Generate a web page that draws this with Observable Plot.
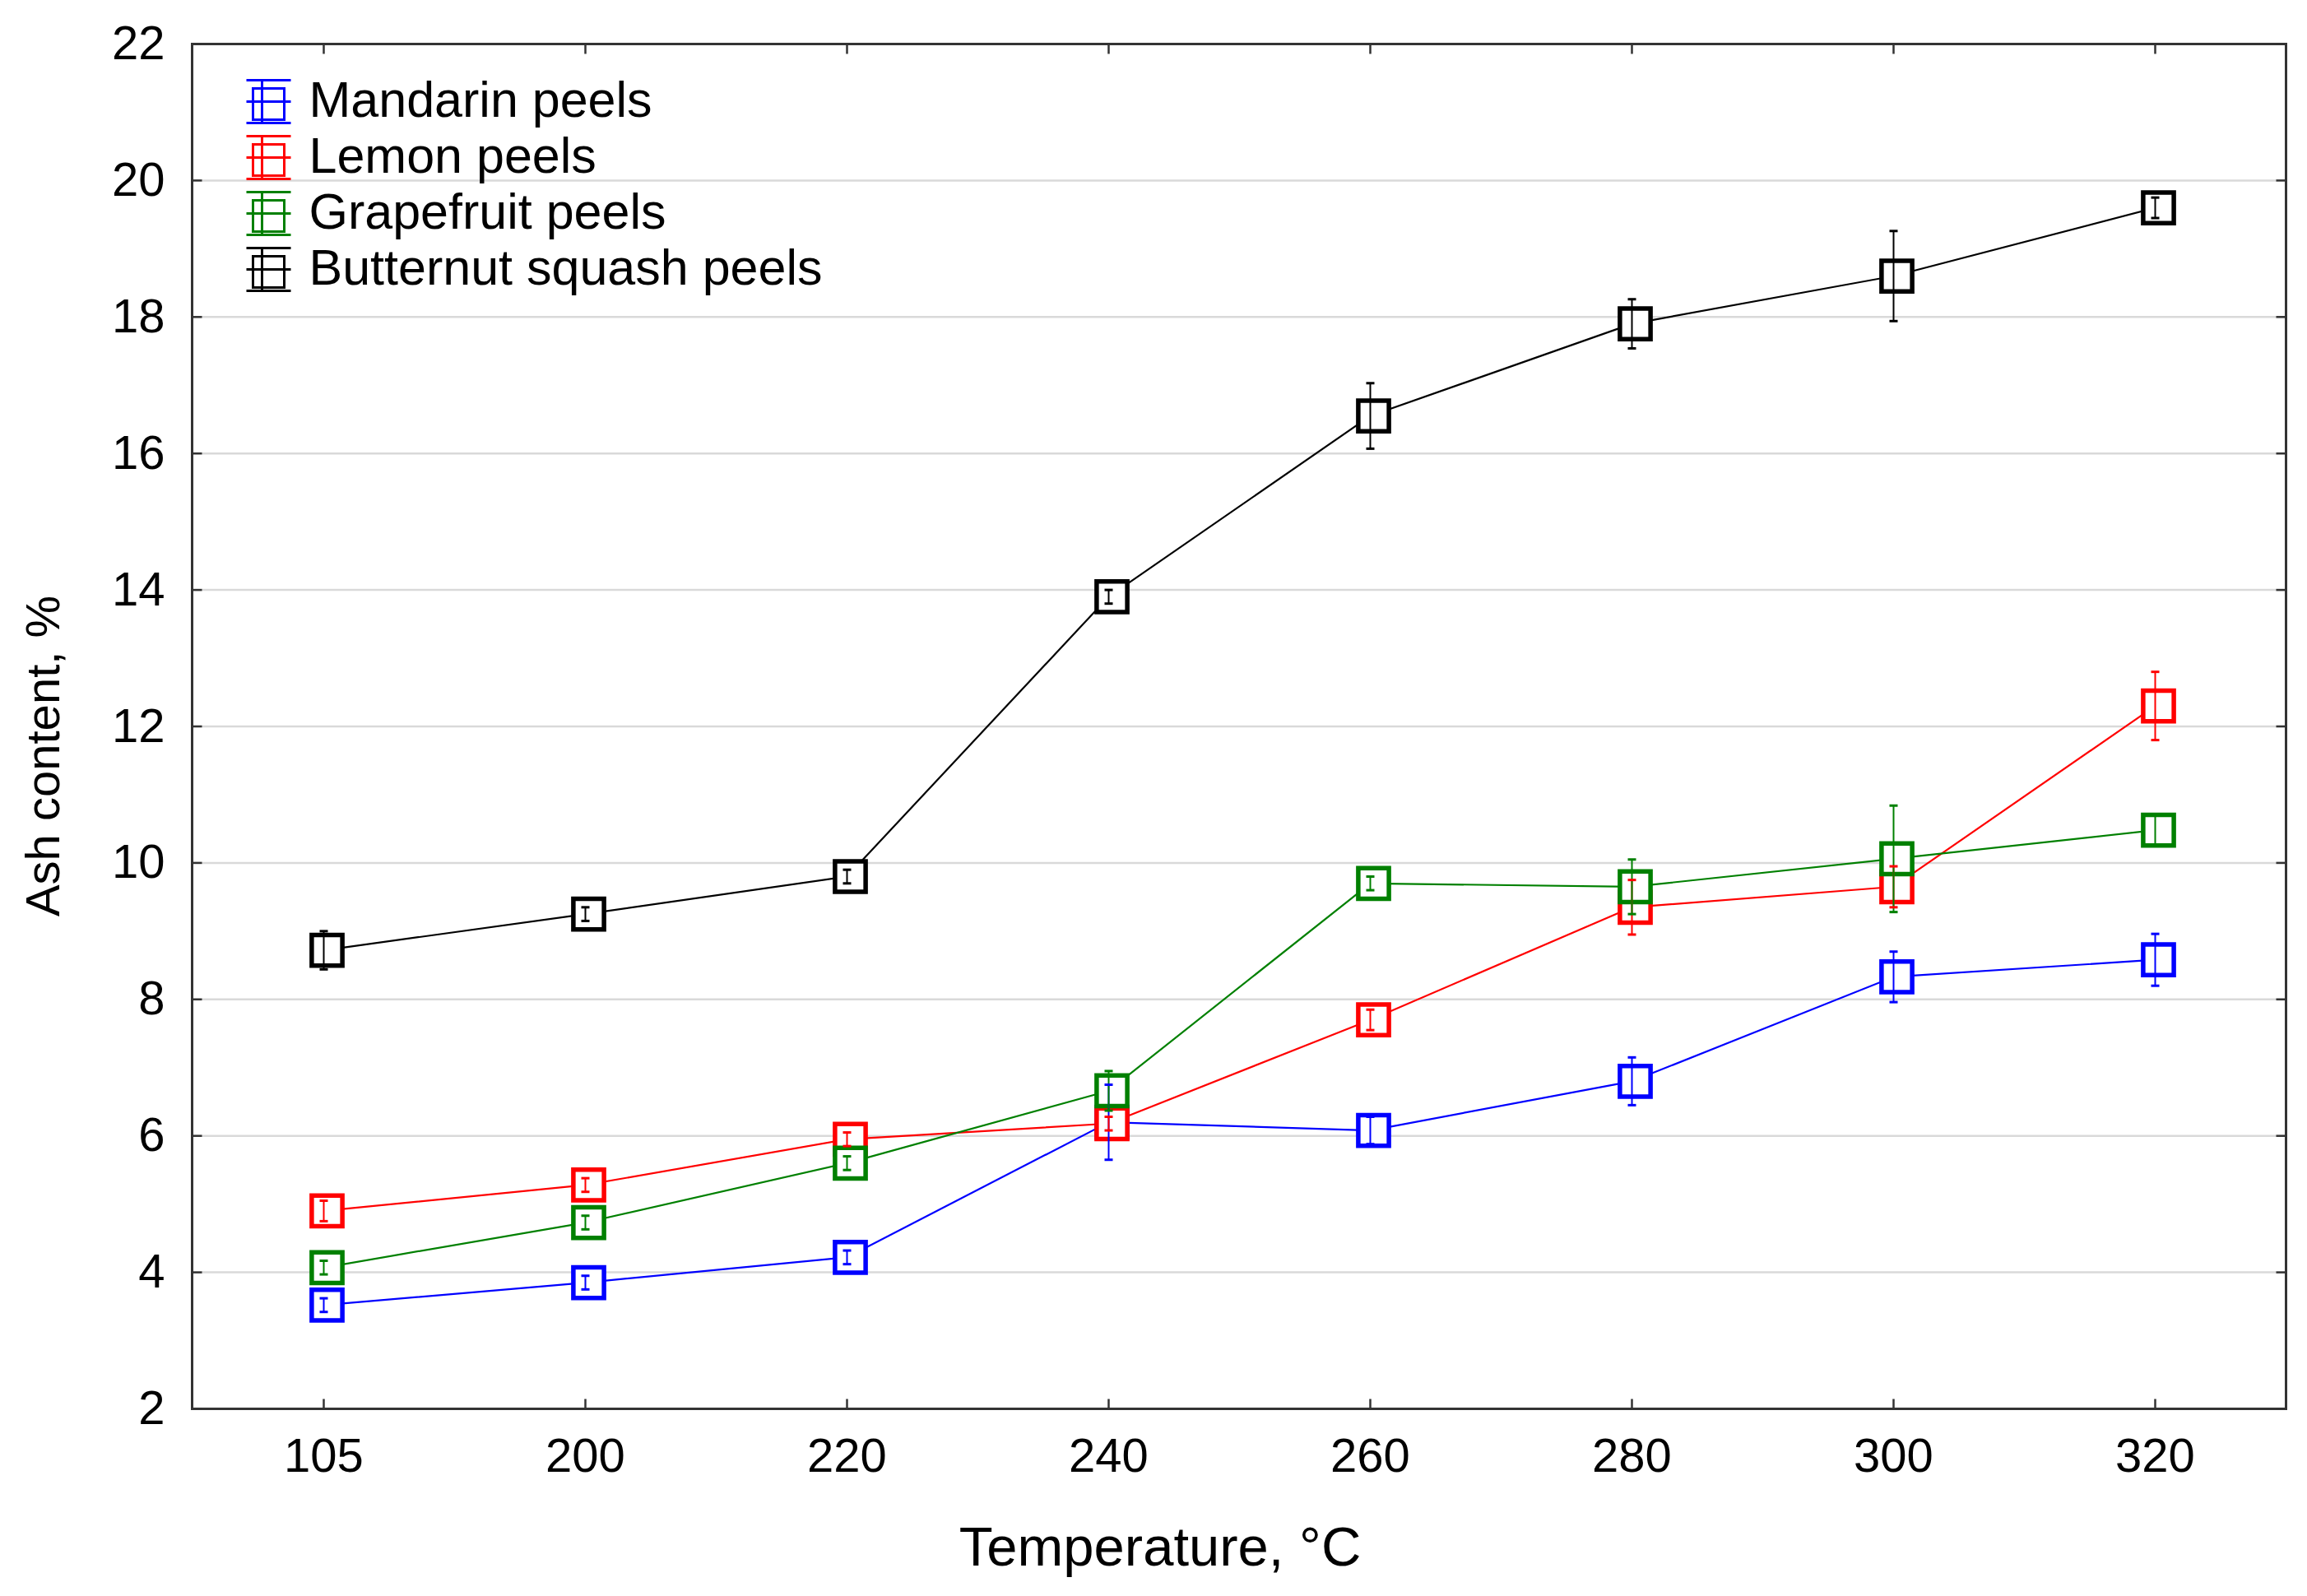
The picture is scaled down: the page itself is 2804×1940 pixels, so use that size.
<!DOCTYPE html>
<html><head><meta charset="utf-8">
<script src="https://cdn.jsdelivr.net/npm/d3@7"></script>
<script src="https://cdn.jsdelivr.net/npm/@observablehq/plot@0.6"></script>
<style>html,body{margin:0;padding:0;background:#fff;} #chart svg{display:block;}</style>
</head><body><div id="chart"></div>
<script>
// ---- data ----
const temps = ["105", "200", "220", "240", "260", "280", "300", "320"];
const seriesNames = ["Mandarin peels", "Lemon peels", "Grapefruit peels", "Butternut squash peels"];
const seriesColors = ["#0000ff", "#ff0000", "#008000", "#000000"];
const mandarin      = [3.52, 3.85, 4.22, 6.20, 6.08, 6.80, 8.33, 8.58];
const mandarinErr   = [0.10, 0.10, 0.10, 0.55, 0.20, 0.35, 0.37, 0.38];
const lemon         = [4.90, 5.28, 5.95, 6.18, 7.70, 9.35, 9.65, 12.30];
const lemonErr      = [0.15, 0.10, 0.10, 0.10, 0.15, 0.40, 0.30, 0.50];
const grapefruit    = [4.07, 4.73, 5.60, 6.66, 9.70, 9.65, 10.06, 10.48];
const grapefruitErr = [0.10, 0.10, 0.10, 0.29, 0.10, 0.40, 0.78, 0.22];
const butternut     = [8.72, 9.25, 9.80, 13.90, 16.55, 17.90, 18.60, 19.60];
const butternutErr  = [0.28, 0.10, 0.10, 0.10, 0.48, 0.36, 0.66, 0.15];
const yTicks = [2, 4, 6, 8, 10, 12, 14, 16, 18, 20, 22];
const xTitle = "Temperature, °C";
const yTitle = "Ash content, %";

const values = [mandarin, lemon, grapefruit, butternut];
const errors = [mandarinErr, lemonErr, grapefruitErr, butternutErr];
const rows = [];
seriesNames.forEach((s, i) => temps.forEach((t, j) => rows.push({series: s, temp: t, value: values[i][j], err: errors[i][j]})));

// ---- custom glyphs ----
const tickSym = (dx, dy) => ({draw(ctx) { ctx.moveTo(0, 0); ctx.lineTo(dx, dy); }});
const capSym = {draw(ctx) { ctx.moveTo(-5, 0); ctx.lineTo(5, 0); }};
const legendGlyph = {draw(ctx) {
  ctx.rect(-19, -15, 38, 38);
  ctx.moveTo(-27, -25); ctx.lineTo(27, -25);
  ctx.moveTo(-27, 27); ctx.lineTo(27, 27);
  ctx.moveTo(-8, -25); ctx.lineTo(-8, 27);
  ctx.moveTo(-27, 1); ctx.lineTo(27, 1);
}};

const frameColor = "#333";
const marks = [
  Plot.gridY(yTicks.filter(v => v > 2 && v < 22), {stroke: "#d9d9d9", strokeOpacity: 1, strokeWidth: 2.5}),
  Plot.line(rows, {x: "temp", y: "value", z: "series", stroke: "series", strokeWidth: 2.2}),
  Plot.dot(rows, {x: "temp", y: "value", symbol: "square", r: 21, stroke: "series", fill: "white", strokeWidth: 5.5, dx: 4}),
  Plot.ruleX(rows, {x: "temp", y1: d => d.value - d.err, y2: d => d.value + d.err, stroke: "series", strokeWidth: 2}),
  Plot.dot(rows, {x: "temp", y: d => d.value + d.err, symbol: capSym, stroke: "series", fill: "none", strokeWidth: 3}),
  Plot.dot(rows, {x: "temp", y: d => d.value - d.err, symbol: capSym, stroke: "series", fill: "none", strokeWidth: 3}),
  Plot.frame({stroke: frameColor, strokeWidth: 3}),
  Plot.dot(temps, {x: d => d, frameAnchor: "bottom", symbol: tickSym(0, -12), stroke: frameColor, fill: "none", strokeWidth: 2.5}),
  Plot.dot(temps, {x: d => d, frameAnchor: "top", symbol: tickSym(0, 12), stroke: frameColor, fill: "none", strokeWidth: 2.5}),
  Plot.dot(yTicks, {y: d => d, frameAnchor: "left", symbol: tickSym(12, 0), stroke: frameColor, fill: "none", strokeWidth: 2.5}),
  Plot.dot(yTicks, {y: d => d, frameAnchor: "right", symbol: tickSym(-12, 0), stroke: frameColor, fill: "none", strokeWidth: 2.5}),
  Plot.axisX({tickSize: 0, tickPadding: 35, fontSize: 58, label: null}),
  Plot.axisY(yTicks, {tickSize: 0, tickPadding: 33, fontSize: 58, label: null, tickFormat: d3.format("d")}),
  Plot.text([yTitle], {frameAnchor: "left", dx: -180, dy: 36, rotate: -90, textAnchor: "middle", lineAnchor: "middle", fontSize: 58, fill: "#000"}),
  Plot.text([xTitle], {frameAnchor: "bottom", dx: -96, dy: 169, textAnchor: "middle", lineAnchor: "middle", fontSize: 67, fill: "#000"})
];
seriesNames.forEach((s, i) => {
  marks.push(Plot.dot([s], {frameAnchor: "top-left", dx: 93, dy: 69 + i * 68, symbol: legendGlyph, stroke: seriesColors[i], fill: "none", strokeWidth: 3}));
  marks.push(Plot.text([s], {frameAnchor: "top-left", dx: 142, dy: 69 + i * 68, textAnchor: "start", lineAnchor: "middle", fontSize: 61, fill: "#000"}));
});

const chart = Plot.plot({
  width: 2804,
  height: 1940,
  marginLeft: 233,
  marginRight: 26,
  marginTop: 53,
  marginBottom: 228,
  style: {fontFamily: "'Liberation Sans', Arial, sans-serif", background: "#fff", color: "#000", overflow: "visible"},
  x: {type: "point", domain: temps, padding: 0.5},
  y: {domain: [2, 22]},
  color: {domain: seriesNames, range: seriesColors},
  marks
});
document.getElementById("chart").appendChild(chart);
</script></body></html>
